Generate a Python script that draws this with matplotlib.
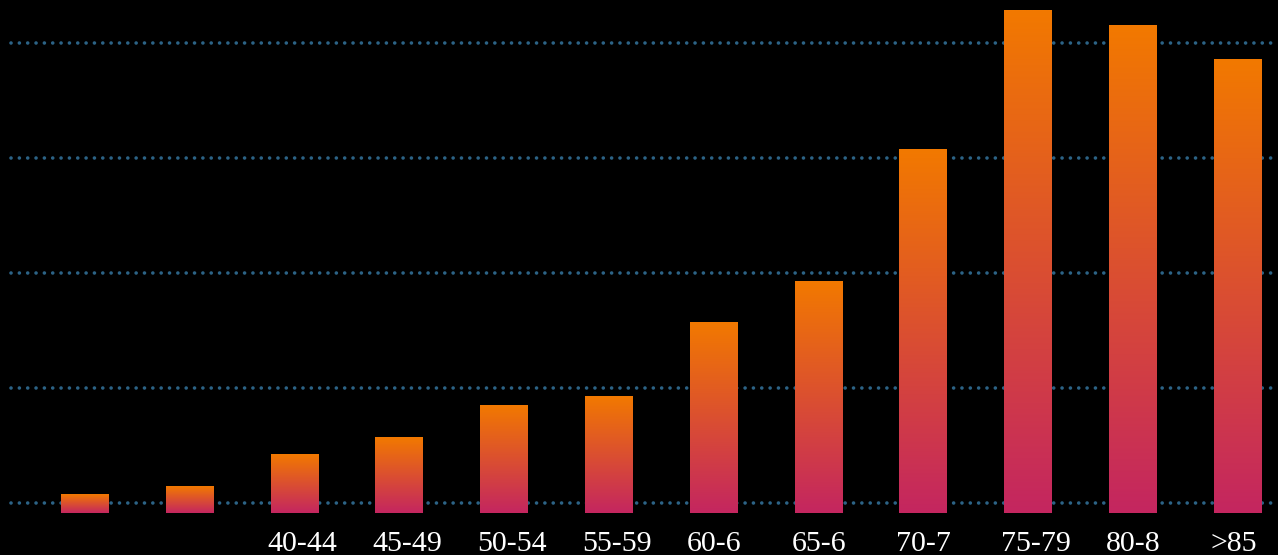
import matplotlib
matplotlib.use("Agg")
import matplotlib.pyplot as plt
import matplotlib.transforms as mtransforms
import numpy as np

# age groups and values
labels = ["", "", "40-44", "45-49", "50-54", "55-59", "60-6", "65-6",
          "70-7", "75-79", "80-8", ">85"]
values = [0.35, 0.70, 2.13, 2.83, 4.26, 4.61, 7.83, 9.65, 15.35, 21.43,
          20.74, 19.30]
grid_levels = [0, 5, 10, 15, 20]

base = -0.435
bar_w = 0.4485
top_color = np.array([0xF2, 0x79, 0x00]) / 255
bottom_color = np.array([0xC4, 0x26, 0x60]) / 255

fig = plt.figure(figsize=(12.78, 5.55), dpi=100, facecolor="black")
ax = fig.add_axes([0, 0, 1, 1])
ax.set_facecolor("black")
ax.axis("off")

# dotted horizontal grid
for g in grid_levels:
    ax.axhline(g, xmin=11 / 1278, xmax=1, color="#2c6386", lw=2.6,
               linestyle=(0, (0.01, 2.3)), dash_capstyle="round", zorder=1)

# vertical gradient for every bar: orange at the top, pink at the bottom
t = np.linspace(0, 1, 256)[:, None]
grad = (top_color * (1 - t) + bottom_color * t)[:, None, :]

x = np.arange(len(values))
for xi, v in zip(x, values):
    ax.imshow(grad, extent=[xi - bar_w / 2, xi + bar_w / 2, base, v],
              origin="upper", aspect="auto", interpolation="bilinear",
              zorder=2)

# category labels along the bottom edge
trans = mtransforms.blended_transform_factory(ax.transData, ax.transAxes)
for xi, lab in zip(x, labels):
    ax.text(xi - bar_w / 2 - 0.03, 4 / 555, lab, transform=trans,
            ha="left", va="baseline", color="white", fontsize=21.5,
            family="Liberation Serif")

ax.set_xlim(-0.806, 11.389)
ax.set_ylim(-2.26, 21.87)
fig.savefig("out.png", dpi=100, facecolor="black")
